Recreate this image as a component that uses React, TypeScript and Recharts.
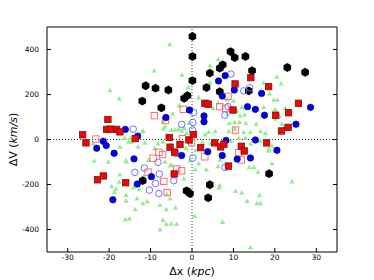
import { ScatterChart, Scatter, XAxis, YAxis, ReferenceLine } from 'recharts';

const xTicks = [-30, -20, -10, 0, 10, 20, 30];
const yTicks = [-400, -200, 0, 200, 400];

const greenPts: [number, number][] = [
  [-5.4, 421], [-9.1, 305], [-19.8, 217], [-17.6, 180], [-2.4, 286], [-0.9, 230], [-7.0, 79], [-6.5, 56],
  [-6.9, 46], [-5.0, 40], [-4.1, 41], [-3.3, 45], [-2.5, 37], [-1.9, 48], [-1.3, 27], [-12.0, 33],
  [-11.8, 36], [-14.9, 4], [-16.2, 6], [-4.7, 113], [-3.1, 149], [-0.7, 71], [4.4, 326], [6.3, 354],
  [4.3, 251], [4.0, 168], [5.1, 138], [6.3, 161], [8.5, 175], [1.6, 185], [10.0, 170], [8.5, 112],
  [10.9, 126], [12.1, 141], [14.9, 131], [12.7, 108], [11.6, 105], [9.0, 71], [10.3, 74], [11.5, 76],
  [13.0, 71], [15.5, 68], [8.9, 34], [10.3, 46], [12.5, 31], [14.1, 31], [16.5, 34], [5.6, 34],
  [4.0, 31], [3.2, 20], [11.3, 4], [12.9, 4], [17.3, 250], [20.5, 277], [21.5, 247], [18.7, 202],
  [19.7, 175], [20.6, 175], [17.3, 141], [20.1, 131], [22.5, 138], [21.7, 68], [22.3, 56], [17.7, 27],
  [20.1, 91], [21.1, 101], [-23.6, -97], [-20.2, -101], [-16.0, -94], [-15.8, -101], [-17.4, -158],
  [-17.6, -190], [-18.4, -221], [-19.4, -210], [-18.7, -235], [-15.9, -249], [-15.9, -274], [-13.7, -312],
  [-13.3, -264], [-11.9, -286], [-10.8, -278], [-16.1, -357], [-15.1, -353], [-14.1, -214], [-12.7, -223],
  [-7.7, -293], [-6.2, -312], [-7.0, -360], [-7.7, -402], [-6.2, -378], [-5.0, -375], [-3.7, -378],
  [-4.0, -304], [-5.3, -264], [-6.1, -243], [-5.3, -118], [-4.9, -116], [-6.5, -101], [-10.5, -93],
  [-11.6, -165], [-15.3, -12], [-14.6, -12], [-11.4, -17], [-8.2, -20], [-7.0, -12], [-13.0, -34],
  [-9.0, -42], [-23.8, -20], [-17.4, -34], [24.1, -189], [16.3, -250], [16.5, -286], [15.7, -285],
  [13.3, -275], [10.5, -231], [12.0, -238], [6.7, -205], [6.5, -215], [7.4, -369], [14.1, -481],
  [0.6, -342], [19.3, -108], [15.9, -146], [14.9, -125], [13.8, -125], [6.3, -121], [3.5, -136],
  [0.8, -134], [1.6, -108], [0.9, -50], [18.5, -52], [18.5, -44], [19.3, -30], [14.2, -21],
  [6.8, -92], [2.5, -12], [4.5, -20], [9.5, -10], [16.5, -8], [-1.5, -40], [-0.5, -95], [-2.0, -175],
];

const blackPts: [number, number][] = [
  [0.1, 458], [0.1, 369], [9.3, 391], [10.3, 364], [12.9, 369], [7.4, 332], [6.7, 317], [4.3, 295],
  [14.5, 306], [23.0, 320], [27.3, 299], [0.1, 262], [3.5, 231], [6.7, 213], [13.7, 216], [-11.2, 239],
  [-8.8, 228], [-5.7, 220], [-12.0, 171], [-7.4, 141], [-1.9, 183], [-1.1, 195], [-11.9, -183],
  [-1.3, -228], [-0.5, -240], [4.3, -201], [3.9, -259], [18.6, -152],
];

const redPts: [number, number][] = [
  [-26.4, 21], [-25.6, -15], [-20.3, 89], [-20.6, 45], [-19.7, 46], [-18.2, 45], [-17.4, 34], [-13.7, 4],
  [-5.5, 9], [-22.8, -179], [-21.4, -162], [-16.0, -192], [-5.3, -34], [-4.2, -56], [-2.9, -22],
  [-4.3, -153], [-0.7, -2], [0.3, 22], [3.1, 161], [3.9, 157], [9.9, 131], [10.4, 247], [14.2, 275],
  [18.5, 235], [20.2, 108], [23.3, 119], [25.7, 161], [23.2, 54], [21.6, 38], [2.1, -36], [5.5, -15],
  [6.9, -33], [7.7, -21], [11.9, -30], [12.6, -51], [18.0, -15], [8.8, -118],
];

const bluePts: [number, number][] = [
  [-21.4, -8], [-20.7, -27], [-23.0, -39], [-18.8, -61], [-19.1, -268], [-16.1, 45], [-13.1, 15],
  [-6.3, 98], [-0.6, 131], [-14.0, -86], [-13.2, -198], [-9.8, -165], [-2.5, -71], [2.9, 105],
  [2.9, 79], [8.0, 284], [6.4, 260], [10.2, 220], [16.8, 205], [7.3, 193], [13.4, 146], [15.3, 134],
  [17.5, 108], [28.6, 143], [25.1, 68], [8.2, -4], [15.3, -2], [3.8, -54], [7.3, -71], [10.9, -87],
  [14.1, -82], [20.5, -48],
];

const blueOpenPts: [number, number][] = [
  [-14.2, 46], [-2.5, 67], [9.4, 291], [12.5, 216], [13.9, 230], [8.7, 146], [7.9, 108], [0.4, 120],
  [0.2, 76], [0.1, 42], [-11.5, -127], [-13.8, -146], [-10.3, -225], [-8.8, -195], [-7.9, -153],
  [-8.0, -240], [-4.4, -183], [-8.2, -101], [-3.9, -62], [0.2, -82], [8.0, -124],
];

const redOpenPts: [number, number][] = [
  [-9.1, 106], [-6.4, 84], [-2.1, 134], [-23.2, 2], [-2.3, 4], [6.7, 146], [8.1, 139], [8.7, 192],
  [10.5, 42], [-8.0, -57], [-7.1, -67], [-9.4, -83], [-10.6, -145], [-6.8, -186], [-6.0, -236],
  [-3.7, -131], [-2.5, -139], [-0.1, -14], [3.1, -77], [11.3, -58], [11.9, -91],
];

const toData = (pts: [number, number][]) => pts.map(([x, y]) => ({ x, y }));

const Triangle = (p: any) => {
  const { cx, cy } = p;
  const r = 3;
  return (
    <polygon
      points={`${cx},${cy - r} ${cx - r * 0.87},${cy + r * 0.5} ${cx + r * 0.87},${cy + r * 0.5}`}
      fill="#90ee90"
    />
  );
};

const Hexagon = (p: any) => {
  const { cx, cy } = p;
  const r = 4.4;
  const pts = [0, 1, 2, 3, 4, 5]
    .map((i) => {
      const a = (Math.PI / 3) * i + Math.PI / 2;
      return `${cx + r * Math.cos(a)},${cy + r * Math.sin(a)}`;
    })
    .join(' ');
  return <polygon points={pts} fill="#000" />;
};

const RedSquare = (p: any) => (
  <rect x={p.cx - 3.2} y={p.cy - 3.2} width={6.4} height={6.4} fill="#f00" stroke="#5a2020" strokeWidth={0.8} />
);

const RedOpen = (p: any) => (
  <rect x={p.cx - 3.2} y={p.cy - 3.2} width={6.4} height={6.4} fill="none" stroke="#ff6060" strokeWidth={0.9} />
);

const BlueDot = (p: any) => <circle cx={p.cx} cy={p.cy} r={3.2} fill="#0000f0" stroke="#00007a" strokeWidth={0.7} />;

const BlueOpen = (p: any) => <circle cx={p.cx} cy={p.cy} r={3.3} fill="none" stroke="#6060ff" strokeWidth={0.9} />;

const NoTick = () => <g />;

const XLabel = (props: any) => {
  const { viewBox } = props;
  const cx = viewBox.x + viewBox.width / 2;
  return (
    <text x={cx} y={275} textAnchor="middle" fontSize={11} fill="#000">
      Δx <tspan>(</tspan>
      <tspan fontStyle="italic">kpc</tspan>
      <tspan>)</tspan>
    </text>
  );
};

const YLabel = (props: any) => {
  const { viewBox } = props;
  const cy = viewBox.y + viewBox.height / 2;
  return (
    <text x={17} y={cy} textAnchor="middle" fontSize={11} fill="#000" transform={`rotate(-90, 17, ${cy})`}>
      ΔV <tspan>(</tspan>
      <tspan fontStyle="italic">km/s</tspan>
      <tspan>)</tspan>
    </text>
  );
};

export default function App() {
  const tickStyle = { fontSize: 7.5, fill: '#000' };
  return (
    <div style={{ position: 'absolute', left: 0, top: 0, width: 374, height: 280, background: '#fff' }}>
      <ScatterChart width={374} height={280} margin={{ top: 0, right: 0, bottom: 0, left: 0 }} style={{ fontFamily: 'DejaVu Sans' }}>
        <XAxis
          xAxisId="b"
          type="number"
          dataKey="x"
          domain={[-35, 35]}
          ticks={xTicks}
          allowDataOverflow
          height={28}
          tickSize={-4}
          tickMargin={7}
          axisLine={{ stroke: '#000' }}
          tickLine={{ stroke: '#000' }}
          tick={tickStyle}
          label={<XLabel />}
        />
        <XAxis
          xAxisId="t"
          orientation="top"
          type="number"
          domain={[-35, 35]}
          ticks={xTicks}
          allowDataOverflow
          height={27}
          tickSize={-4}
          axisLine={{ stroke: '#000' }}
          tickLine={{ stroke: '#000' }}
          tick={NoTick}
        />
        <YAxis
          yAxisId="l"
          type="number"
          dataKey="y"
          domain={[-500, 500]}
          ticks={yTicks}
          allowDataOverflow
          width={47}
          tickSize={-4}
          tickMargin={12}
          axisLine={{ stroke: '#000' }}
          tickLine={{ stroke: '#000' }}
          tick={tickStyle}
          label={<YLabel />}
        />
        <YAxis
          yAxisId="r"
          orientation="right"
          type="number"
          domain={[-500, 500]}
          ticks={yTicks}
          allowDataOverflow
          width={37}
          tickSize={-4}
          axisLine={{ stroke: '#000' }}
          tickLine={{ stroke: '#000' }}
          tick={NoTick}
        />
        <ReferenceLine xAxisId="b" yAxisId="l" x={0} stroke="#000" strokeDasharray="1 2" strokeWidth={0.8} />
        <ReferenceLine xAxisId="b" yAxisId="l" y={0} stroke="#000" strokeDasharray="1 2" strokeWidth={0.8} />
        <Scatter xAxisId="b" yAxisId="l" data={toData(greenPts)} shape={Triangle} isAnimationActive={false} />
        <Scatter xAxisId="b" yAxisId="l" data={toData(blackPts)} shape={Hexagon} isAnimationActive={false} />
        <Scatter xAxisId="b" yAxisId="l" data={toData(blueOpenPts)} shape={BlueOpen} isAnimationActive={false} />
        <Scatter xAxisId="b" yAxisId="l" data={toData(redOpenPts)} shape={RedOpen} isAnimationActive={false} />
        <Scatter xAxisId="b" yAxisId="l" data={toData(bluePts)} shape={BlueDot} isAnimationActive={false} />
        <Scatter xAxisId="b" yAxisId="l" data={toData(redPts)} shape={RedSquare} isAnimationActive={false} />
      </ScatterChart>
    </div>
  );
}
